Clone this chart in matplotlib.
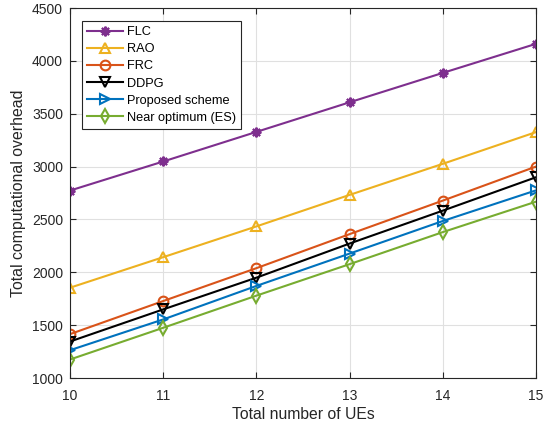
import numpy as np
import matplotlib
matplotlib.use("Agg")
import matplotlib.pyplot as plt

plt.rcParams['font.family'] = ['Liberation Sans', 'DejaVu Sans']

num_ues = [10, 11, 12, 13, 14, 15]
flc = [2773, 3048, 3328, 3608, 3886, 4161]
rao = [1854, 2143, 2434, 2732, 3026, 3326]
frc = [1415, 1728, 2039, 2361, 2678, 3000]
ddpg = [1345, 1649, 1949, 2272, 2583, 2899]
proposed = [1263, 1554, 1871, 2177, 2485, 2775]
near_opt = [1175, 1475, 1779, 2077, 2380, 2668]

labels = ["FLC", "RAO", "FRC", "DDPG", "Proposed scheme", "Near optimum (ES)"]
series = [flc, rao, frc, ddpg, proposed, near_opt]
colors = [(0.494, 0.184, 0.556), (0.929, 0.694, 0.125), (0.85, 0.325, 0.098),
          (0, 0, 0), (0, 0.447, 0.741), (0.466, 0.674, 0.188)]
markers = [(8, 2, 0), '^', 'o', 'v', '>', 'd']

fig = plt.figure(figsize=(5.45, 4.26), dpi=100)
ax = fig.add_axes([70/545, 1 - 378/426, 466/545, 370/426])

for y, lab, c, m in zip(series, labels, colors, markers):
    ax.plot(num_ues, y, color=c, marker=m, markersize=7, linewidth=1.5,
            markerfacecolor='none' if m != markers[0] else c,
            markeredgewidth=1.5, label=lab)

ax.set_xlim(10, 15)
ax.set_ylim(1000, 4500)
ax.set_xticks(num_ues)
ax.set_yticks(np.arange(1000, 4501, 500))
ax.grid(True, color='#e0e0e0', linewidth=0.8)
ax.set_axisbelow(True)
ax.tick_params(direction='in', labelsize=10, top=True, right=True, length=4,
               colors='#262626')
ax.tick_params(axis='x', pad=8)
ax.tick_params(axis='y', pad=5)
for s in ax.spines.values():
    s.set_color('#262626')
    s.set_linewidth(0.8)
ax.set_xlabel("Total number of UEs", fontsize=11.3, color='#262626', labelpad=3)
ax.set_ylabel("Total computational overhead", fontsize=11.4, color='#262626')

leg = ax.legend(loc='upper left', bbox_to_anchor=(0.018, 0.975), fontsize=9.2,
                fancybox=False, edgecolor='#262626', framealpha=1,
                handlelength=2.8, borderaxespad=0.3, labelspacing=0.4,
                handletextpad=0.3)
leg.get_frame().set_linewidth(0.8)

fig.savefig("out.png", dpi=100)
